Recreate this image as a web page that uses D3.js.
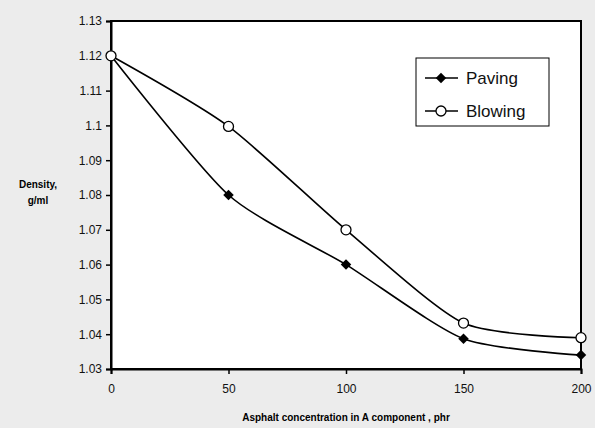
<!DOCTYPE html>
<html>
<head>
<meta charset="utf-8">
<script src="https://cdn.jsdelivr.net/npm/d3@7"></script>
<style>
  body { margin: 0; background: #ececec; }
  svg { display: block; font-family: "Liberation Sans", Arial, sans-serif; }
</style>
</head>
<body>
<div id="chart"></div>
<script>
// Data
const concentrations = [0, 50, 100, 150, 200]
const paving = [1.12, 1.08, 1.06, 1.0387, 1.034]
const blowing = [1.12, 1.0997, 1.07, 1.0432, 1.039]
const xTicks = [0, 50, 100, 150, 200]
const yTicks = [1.03, 1.04, 1.05, 1.06, 1.07, 1.08, 1.09, 1.1, 1.11, 1.12, 1.13]
const seriesNames = ['Paving', 'Blowing']

;(({ width, height, plot: { left, top, right, bottom } }) => {
  const svg = d3.select('#chart')
    .append('svg')
    .attr('width', width)
    .attr('height', height)

  const x = d3.scaleLinear().domain([0, 200]).range([left, right])
  const y = d3.scaleLinear().domain([1.03, 1.13]).range([bottom, top])

  // Plot area
  svg.append('rect')
    .attr('x', left).attr('y', top)
    .attr('width', right - left).attr('height', bottom - top)
    .attr('fill', '#fff')
    .attr('stroke', '#000')
    .attr('stroke-width', 2)

  // Axes
  const yAxis = svg.append('g')
    .attr('transform', `translate(${left},0)`)
    .call(d3.axisLeft(y).tickValues(yTicks).tickSize(5).tickPadding(4)
      .tickFormat(d => String(+d.toFixed(2))))
  const xAxis = svg.append('g')
    .attr('transform', `translate(0,${bottom})`)
    .call(d3.axisBottom(x).tickValues(xTicks).tickSize(5).tickPadding(10))
  ;[xAxis, yAxis].forEach(a => {
    a.select('.domain').attr('stroke-width', 2)
    a.selectAll('.tick line').attr('stroke-width', 1.5)
    a.selectAll('text').attr('font-size', 12).attr('fill', '#111')
  })

  // Lines
  const line = d3.line()
    .x((d, i) => x(concentrations[i]))
    .y(d => y(d))
    .curve(d3.curveCardinal.tension(0.3))
  ;[paving, blowing].forEach(values => {
    svg.append('path')
      .attr('d', line(values))
      .attr('fill', 'none')
      .attr('stroke', '#000')
      .attr('stroke-width', 1.6)
  })

  const diamond = d3.symbol().type(d3.symbolDiamond2).size(70)

  svg.selectAll('.paving')
    .data(paving)
    .enter()
    .append('path')
    .attr('class', 'paving')
    .attr('d', diamond)
    .attr('transform', (d, i) => `translate(${x(concentrations[i])},${y(d)})`)
    .attr('fill', '#000')

  svg.selectAll('.blowing')
    .data(blowing)
    .enter()
    .append('circle')
    .attr('class', 'blowing')
    .attr('cx', (d, i) => x(concentrations[i]))
    .attr('cy', d => y(d))
    .attr('r', 5)
    .attr('fill', '#fff')
    .attr('stroke', '#000')
    .attr('stroke-width', 1.3)

  // Legend
  const legend = svg.append('g').attr('transform', 'translate(416,58)')
  legend.append('rect')
    .attr('width', 133).attr('height', 68)
    .attr('fill', '#fff')
    .attr('stroke', '#000')
    .attr('stroke-width', 1)
  seriesNames.forEach((name, i) => {
    const cy = 20 + i * 33
    legend.append('line')
      .attr('x1', 9).attr('x2', 42).attr('y1', cy).attr('y2', cy)
      .attr('stroke', '#000').attr('stroke-width', 1.6)
    if (i === 0) {
      legend.append('path')
        .attr('d', diamond)
        .attr('transform', `translate(25,${cy})`)
        .attr('fill', '#000')
    } else {
      legend.append('circle')
        .attr('cx', 25).attr('cy', cy).attr('r', 5)
        .attr('fill', '#fff').attr('stroke', '#000').attr('stroke-width', 1.3)
    }
    legend.append('text')
      .attr('x', 50).attr('y', cy + 6)
      .attr('font-size', 17)
      .attr('fill', '#111')
      .text(name)
  })

  // Axis titles
  svg.append('text')
    .attr('x', (left + right) / 2).attr('y', 421)
    .attr('text-anchor', 'middle')
    .attr('font-size', 10).attr('font-weight', 'bold')
    .text('Asphalt concentration in A component , phr')
  const yTitle = svg.append('text')
    .attr('text-anchor', 'middle')
    .attr('font-size', 10).attr('font-weight', 'bold')
  yTitle.append('tspan').attr('x', 38).attr('y', 188).text('Density,')
  yTitle.append('tspan').attr('x', 38).attr('y', 204).text('g/ml')
})({
  width: 595,
  height: 428,
  plot: { left: 111, top: 21, right: 581, bottom: 369 }
})
</script>
</body>
</html>
